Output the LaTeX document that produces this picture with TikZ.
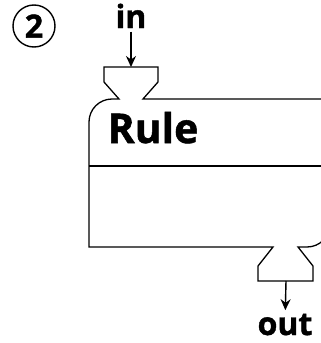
\documentclass[tikz,border=0pt]{standalone}
\usepackage{fontspec}
\setmainfont{Open Sans}[BoldFeatures={FakeBold=1.3}]
\usepackage{tikz}
\usetikzlibrary{arrows.meta,positioning}
\tikzset{
    %Define standard arrow tip
    >={Stealth[length=11pt,width=10pt]},
    %Define style for the text labels
    merke/.style={
           font=\fontsize{32}{32}\selectfont\bfseries,
           inner sep=0pt},
    %Define style for the numbered circle
    nummer/.style={
           circle,
           draw=black, line width=1.4pt,
           minimum size=42pt,
           inner sep=0pt,
           font=\fontsize{32}{32}\selectfont\bfseries},
    % Define arrow style
    portpil/.style={
           ->,
           line width=1.4pt,
           shorten <=3pt}
}
\begin{document}
\begin{tikzpicture}[x=1pt,y=-1pt,line width=1.3pt,line join=miter]
\useasboundingbox (0,0) rectangle (321,343);

\node[nummer] (nr) at (34,26) {2};
\node[merke, anchor=base] (in) at (131,28) {in};
\node[merke, anchor=base] (out) at (285,335) {out};
\node[merke, font=\fontsize{41}{41}\selectfont\bfseries, anchor=base west] (rule) at (107,143) {Rule};

\coordinate (inport) at (131,67);
\coordinate (outport) at (286,281);

% rule box with the two ports
\draw (143,99) -- (330,99) -- (330,224)
      arc[start angle=0, end angle=-90, radius=23pt]
      -- (298,247) -- (313,266) -- (313,281) -- (258,281) -- (258,266) -- (273,247)
      -- (89,247) -- (89,122)
      arc[start angle=180, end angle=90, radius=23pt]
      -- (119,99) -- (104,82) -- (104,67) -- (158,67) -- (158,82) -- cycle;
\draw (89,166) -- (330,166);

\draw[portpil] (in) -- (inport);
\draw[portpil, shorten <=0pt, shorten >=3pt] (outport) -- (out);

\end{tikzpicture}
\end{document}
